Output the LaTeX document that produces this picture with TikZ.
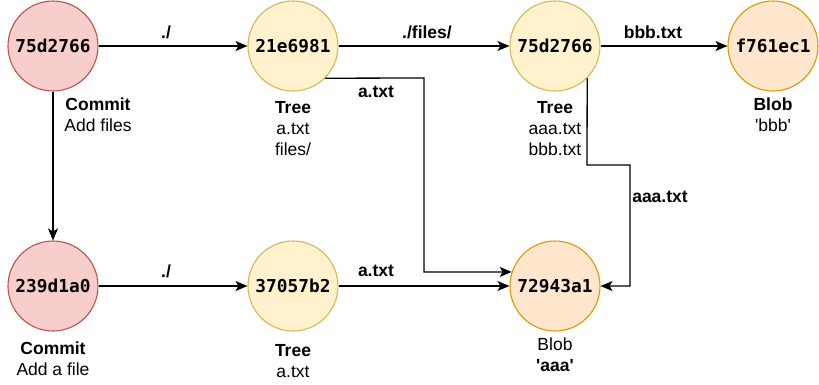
\documentclass[tikz,border=0pt]{standalone}
\usepackage{fontspec}
\setmainfont{Liberation Sans}
\newfontfamily\hashfont{DejaVu Sans Mono}
\usetikzlibrary{arrows.meta}
\definecolor{commitfill}{HTML}{F8CECC}
\definecolor{commitdraw}{HTML}{B85450}
\definecolor{treefill}{HTML}{FFF2CC}
\definecolor{treedraw}{HTML}{D6B656}
\definecolor{blobfill}{HTML}{FFE6CC}
\definecolor{blobdraw}{HTML}{D79B00}
\begin{document}
\begin{tikzpicture}[x=1pt,y=-1pt,
  obj/.style={circle,minimum size=90pt,inner sep=0pt,line width=1.1pt,
    font=\hashfont\bfseries\fontsize{17.8}{21}\selectfont},
  commitobj/.style={obj,fill=commitfill,draw=commitdraw},
  treeobj/.style={obj,fill=treefill,draw=treedraw},
  blobobj/.style={obj,fill=blobfill,draw=blobdraw},
  caption/.style={align=center,inner sep=0pt,font=\fontsize{17.5}{21}\selectfont},
  elabel/.style={inner sep=0pt,font=\bfseries\fontsize{17.5}{21}\selectfont},
  link/.style={line width=1.3pt,-{Stealth[length=12pt,width=10pt,inset=3pt]}}]
\useasboundingbox (0,0) rectangle (819,384);

\node[commitobj] (c1) at (53,46) {75d2766};
\node[treeobj] (t1) at (293,46) {21e6981};
\node[treeobj] (t2) at (555,46) {75d2766};
\node[blobobj] (b1) at (773,46) {f761ec1};
\node[commitobj] (c2) at (53,286) {239d1a0};
\node[treeobj] (t3) at (293,286) {37057b2};
\node[blobobj] (b2) at (555,286) {72943a1};

\node[caption] (c1cap) at (98,114.5) {\textbf{Commit}\\Add files};
\node[caption] (t1cap) at (293,129) {\textbf{Tree}\\a.txt\\files/};
\node[caption] (t2cap) at (555,129) {\textbf{Tree}\\aaa.txt\\bbb.txt};
\node[caption] (b1cap) at (773,114.5) {\textbf{Blob}\\\textquotesingle bbb\textquotesingle};
\node[caption] (c2cap) at (53,358.5) {\textbf{Commit}\\Add a file};
\node[caption] (t3cap) at (293,361.5) {\textbf{Tree}\\a.txt};
\node[caption] (b2cap) at (555,354.5) {Blob\\\textbf{\textquotesingle aaa\textquotesingle}};

\coordinate (p1) at (424,78);
\coordinate (p2) at (424,272);
\coordinate (p3) at (587,165);
\coordinate (p4) at (630,165);
\coordinate (p5) at (630,286);

\draw[link] (c1) -- (t1);
\draw[link] (t1) -- (t2);
\draw[link] (t2) -- (b1);
\draw[link] (c1) -- (c2);
\draw[link] (c2) -- (t3);
\draw[link] (t3) -- (b2);
\draw[link] (t1.-45) -- (p1) -- (p2) -- (b2.162);
\draw[link] (t2.-45) -- (p3) -- (p4) -- (p5) -- (b2.east);

\node[elabel] (l1) at (166,32) {./};
\node[elabel] (l2) at (427,32) {./files/};
\node[elabel] (l3) at (653,32) {bbb.txt};
\node[elabel] (l4) at (376,92) {a.txt};
\node[elabel] (l5) at (166,271) {./};
\node[elabel] (l6) at (376,271) {a.txt};
\node[elabel] (l7) at (660,197) {aaa.txt};
\end{tikzpicture}
\end{document}
